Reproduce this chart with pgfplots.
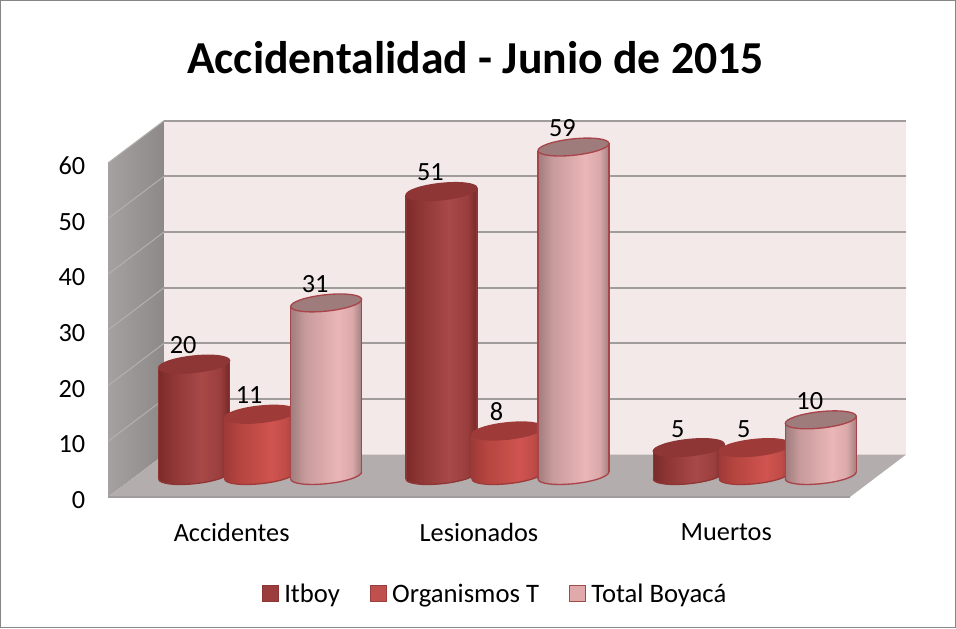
\documentclass[border=0pt]{standalone}
\usepackage{fontspec}
\setmainfont{Carlito}
\usepackage{pgfplots}
\usepackage{pgfplotstable}
\pgfplotsset{compat=1.18}

\newlength{\px}
\setlength{\px}{0.75pt}

\definecolor{wallback}{HTML}{F4E9E9}
\definecolor{floorc}{HTML}{B3ADAD}
\definecolor{gridc}{HTML}{A09C9C}
\definecolor{framec}{HTML}{868686}
\definecolor{sideL}{HTML}{A6A1A1}
\definecolor{sideR}{HTML}{8E8989}
\definecolor{sideline}{HTML}{B4B0B0}
\definecolor{edgeC}{HTML}{A8454A}
\definecolor{legA}{HTML}{9B3D3C}\definecolor{legAd}{HTML}{8B3534}
\definecolor{legB}{HTML}{C0504D}\definecolor{legBd}{HTML}{9A3F3D}
\definecolor{legC}{HTML}{DFAAA9}\definecolor{legCd}{HTML}{A24A4A}
\definecolor{a1}{HTML}{7A2B2A}\definecolor{a2}{HTML}{8E3635}\definecolor{a3}{HTML}{A84948}\definecolor{a4}{HTML}{9A3E3D}\definecolor{a5}{HTML}{752625}
\definecolor{b1}{HTML}{9E3A38}\definecolor{b2}{HTML}{B5443F}\definecolor{b3}{HTML}{D0544F}\definecolor{b4}{HTML}{C04C48}\definecolor{b5}{HTML}{A03C3A}
\definecolor{c1}{HTML}{9E7C7C}\definecolor{c2}{HTML}{C79A9B}\definecolor{c3}{HTML}{EAB6B7}\definecolor{c4}{HTML}{DCA9AA}\definecolor{c5}{HTML}{A07E7E}
\pgfdeclarehorizontalshading{shA}{100bp}{color(0bp)=(a1); color(25bp)=(a1); color(35bp)=(a2); color(55bp)=(a3); color(68bp)=(a4); color(75bp)=(a5); color(100bp)=(a5)}
\pgfdeclarehorizontalshading{shB}{100bp}{color(0bp)=(b1); color(25bp)=(b1); color(35bp)=(b2); color(58bp)=(b3); color(68bp)=(b4); color(75bp)=(b5); color(100bp)=(b5)}
\pgfdeclarehorizontalshading{shC}{100bp}{color(0bp)=(c1); color(25bp)=(c1); color(35bp)=(c2); color(58bp)=(c3); color(68bp)=(c4); color(75bp)=(c5); color(100bp)=(c5)}

% one cylinder drawn from its data point: #1 name, #2 offset from the category in pt,
% #3 top colour, #4 outline. Tilt of the ellipses is about 6 degrees.
\newcommand{\defcyl}[4]{%
  \pgfdeclareplotmark{cyl#1}{%
    \pgfmathsetmacro{\tt}{16.125}%
    \pgfmathsetmacro{\bb}{16.125-\cylval*5.567*0.75}%
    \pgfsetlinewidth{1pt}\pgfsetstrokecolor{#4}\pgfsetfillcolor{#3}%
    % body and bottom ellipse, shaded left to right
    \pgfpathmoveto{\pgfpoint{(#2-26.6)*1pt}{(\bb-2.8)*1pt}}%
    \pgfpathlineto{\pgfpoint{(#2+26.6)*1pt}{(\bb+2.8)*1pt}}%
    \pgfpathlineto{\pgfpoint{(#2+26.6)*1pt}{(\tt+2.8)*1pt}}%
    \pgfpathlineto{\pgfpoint{(#2-26.6)*1pt}{(\tt-2.8)*1pt}}%
    \pgfpathclose
    \pgfpathellipse{\pgfpoint{#2*1pt}{\bb*1pt}}{\pgfpoint{26.6pt}{2.8pt}}{\pgfpoint{-0.64pt}{6.1pt}}%
    \pgfshadepath{sh#1}{0}\pgfusepath{discard}%
    % outline: the two sides and the lower half of the bottom ellipse
    \pgfpathmoveto{\pgfpoint{(#2-26.6)*1pt}{(\bb-2.8)*1pt}}%
    \pgfpathlineto{\pgfpoint{(#2-26.6)*1pt}{(\tt-2.8)*1pt}}%
    \pgfpathmoveto{\pgfpoint{(#2+26.6)*1pt}{(\bb+2.8)*1pt}}%
    \pgfpathlineto{\pgfpoint{(#2+26.6)*1pt}{(\tt+2.8)*1pt}}%
    \pgfusepath{stroke}%
    \begin{pgfscope}
      \pgfpathmoveto{\pgfpoint{(#2-28)*1pt}{(\bb-2.95)*1pt}}%
      \pgfpathlineto{\pgfpoint{(#2+28)*1pt}{(\bb+2.95)*1pt}}%
      \pgfpathlineto{\pgfpoint{(#2+28)*1pt}{(\bb-20)*1pt}}%
      \pgfpathlineto{\pgfpoint{(#2-28)*1pt}{(\bb-20)*1pt}}%
      \pgfpathclose\pgfusepath{clip}%
      \pgfpathellipse{\pgfpoint{#2*1pt}{\bb*1pt}}{\pgfpoint{26.6pt}{2.8pt}}{\pgfpoint{-0.64pt}{6.1pt}}%
      \pgfusepath{stroke}%
    \end{pgfscope}
    % top
    \pgfpathellipse{\pgfpoint{#2*1pt}{\tt*1pt}}{\pgfpoint{26.6pt}{2.8pt}}{\pgfpoint{-0.64pt}{6.1pt}}%
    \pgfusepath{fill,stroke}%
  }%
}
\defcyl{A}{-28.125}{a2}{a2}
\defcyl{B}{21.375}{b1}{b1}
\defcyl{C}{70.875}{c1}{edgeC}

\pgfplotstableread{
cat itboy org total
0 20 11 31
1 51 8 59
2 5 5 10
}\datos

\begin{document}
\begin{tikzpicture}
\useasboundingbox (0,0) rectangle (956\px,-628\px);
\node[font=\bfseries\fontsize{34.3}{38}\selectfont] at (475.5\px,-58\px) {Accidentalidad - Junio de 2015};
\begin{axis}[
  at={(108\px,-497\px)}, anchor=south west,
  x=247.3\px, y=5.567\px,
  xmin=-0.5, xmax=2.5, ymin=0, ymax=60,
  clip=false,
  axis line style={draw=none},
  tick style={draw=none},
  xtick={0,1,2},
  xticklabels={Accidentes,Lesionados,Muertos},
  ytick={0,10,...,60},
  /pgf/number format/assume math mode=true,
  tick label style={font=\fontsize{19.7}{22}\selectfont},
  xticklabel style={anchor=center,yshift=-35\px},
  yticklabel style={anchor=east,xshift=-18\px,yshift=-3\px},
  legend style={at={(0.522,-0.29)},anchor=center,draw=none,fill=none,
    legend columns=3,font=\fontsize{20}{22}\selectfont,
    /tikz/every odd column/.append style={column sep=3\px},
    /tikz/every even column/.append style={column sep=27\px}},
]
% back wall, side wall and floor
\addplot[draw=none,fill=wallback,forget plot] coordinates {(-0.2736,7.6) (2.7264,7.6) (2.7264,67.6) (-0.2736,67.6)} -- cycle;
\addplot[draw=none,left color=sideL,right color=sideR,forget plot] coordinates {(-0.5,0) (-0.2736,7.6) (-0.2736,67.6) (-0.5,60)} -- cycle;
\addplot[draw=none,fill=floorc,forget plot] coordinates {(-0.5,0) (2.5,0) (2.7264,7.6) (-0.2736,7.6)} -- cycle;
\addplot[gridc,line width=2\px,forget plot] coordinates {(-0.5,0) (2.5,0)};
% grid lines on the back wall and the side wall
\addplot[gridc,line width=2\px,forget plot] coordinates {(-0.2736,17.6) (2.7264,17.6)};
\addplot[gridc,line width=2\px,forget plot] coordinates {(-0.2736,27.6) (2.7264,27.6)};
\addplot[gridc,line width=2\px,forget plot] coordinates {(-0.2736,37.6) (2.7264,37.6)};
\addplot[gridc,line width=2\px,forget plot] coordinates {(-0.2736,47.6) (2.7264,47.6)};
\addplot[gridc,line width=2\px,forget plot] coordinates {(-0.2736,57.6) (2.7264,57.6)};
\addplot[gridc,line width=2\px,forget plot] coordinates {(-0.2736,67.6) (2.7264,67.6)};
\addplot[sideline,line width=1\px,forget plot] coordinates {(-0.5,10) (-0.2736,17.6)};
\addplot[sideline,line width=1\px,forget plot] coordinates {(-0.5,20) (-0.2736,27.6)};
\addplot[sideline,line width=1\px,forget plot] coordinates {(-0.5,30) (-0.2736,37.6)};
\addplot[sideline,line width=1\px,forget plot] coordinates {(-0.5,40) (-0.2736,47.6)};
\addplot[sideline,line width=1\px,forget plot] coordinates {(-0.5,50) (-0.2736,57.6)};
\addplot[sideline,line width=1\px,forget plot] coordinates {(-0.5,60) (-0.2736,67.6)};

% the three series
\addplot[scatter,only marks,mark=cylA,forget plot,visualization depends on={rawy \as \cylval},
  nodes near coords,every node near coord/.append style={anchor=center,text=black,font=\fontsize{19.7}{22}\selectfont,xshift=-48.5\px,yshift=40.5\px}]
  table[x=cat,y=itboy] {\datos};
\addplot[scatter,only marks,mark=cylB,forget plot,visualization depends on={rawy \as \cylval},
  nodes near coords,every node near coord/.append style={anchor=center,text=black,font=\fontsize{19.7}{22}\selectfont,xshift=17.5\px,yshift=40.5\px}]
  table[x=cat,y=org] {\datos};
\addplot[scatter,only marks,mark=cylC,forget plot,visualization depends on={rawy \as \cylval},
  nodes near coords,every node near coord/.append style={anchor=center,text=black,font=\fontsize{19.7}{22}\selectfont,xshift=83.5\px,yshift=40.5\px}]
  table[x=cat,y=total] {\datos};

\addlegendimage{legend image code/.code={\draw[fill=legA,draw=legAd,line width=1\px] (0,-8\px) rectangle (16\px,8\px);}}
\addlegendentry{Itboy}
\addlegendimage{legend image code/.code={\draw[fill=legB,draw=legBd,line width=1\px] (0,-8\px) rectangle (16\px,8\px);}}
\addlegendentry{Organismos T}
\addlegendimage{legend image code/.code={\draw[fill=legC,draw=legCd,line width=1\px] (0,-8\px) rectangle (16\px,8\px);}}
\addlegendentry{Total Boyacá}
\end{axis}
\draw[framec,line width=1.5\px] (0.5\px,-0.5\px) rectangle (955.5\px,-627.5\px);
\end{tikzpicture}
\end{document}
